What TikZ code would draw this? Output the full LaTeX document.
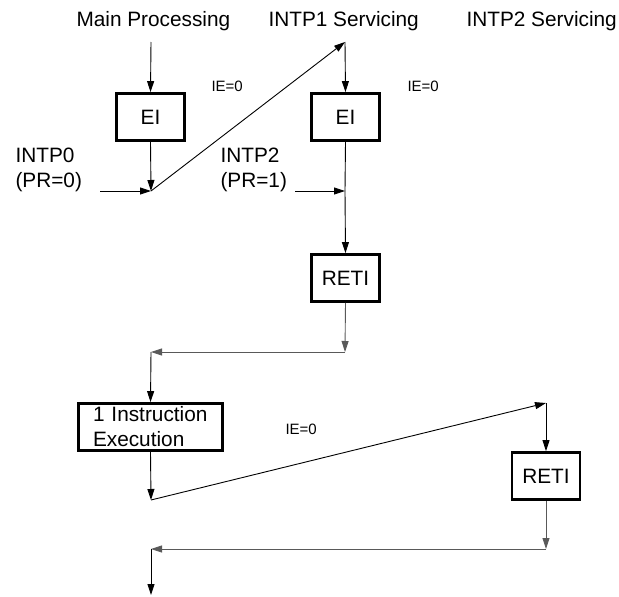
\documentclass[tikz,border=0pt]{standalone}
\usepackage{fontspec}
\setmainfont{Liberation Sans}
\usetikzlibrary{arrows.meta}

\tikzset{
  stepbox/.style={draw, line width=2.8pt, minimum width=68pt, minimum height=47pt, inner sep=0pt},
  flow/.style={line width=0.9pt, -{Triangle[length=11pt,width=7pt]}},
  back/.style={flow, draw=black!65},
  big/.style={font=\fontsize{20.8}{25}\selectfont},
  small/.style={font=\fontsize{15}{18}\selectfont},
}

\begin{document}
\begin{tikzpicture}[x=1pt, y=-1pt, big]
        \useasboundingbox (0,0) rectangle (619,597);

        % Column headings
        \node[anchor=base west] (hmain) at (73,27) {Main Processing};
        \node[anchor=base west] (hone) at (265,27) {INTP1 Servicing};
        \node[anchor=base west] (htwo) at (463,27) {INTP2 Servicing};

        % Main processing
        \coordinate (mtop) at (151,42);
        \node[stepbox] (ei0) at (150.5,117) {EI};
        \coordinate (j0) at (151,191);
        \coordinate (i0) at (100,191);
        \node[anchor=base west, align=left] (lintp0) at (12,187) {INTP0\\(PR=0)};
        \node[small, anchor=base west] (ie0) at (208,91) {IE=0};

        % INTP1 servicing
        \coordinate (t1) at (345,42);
        \node[stepbox] (ei1) at (345.5,117) {EI};
        \coordinate (j1) at (345,191);
        \coordinate (i2) at (295,191);
        \node[anchor=base west, align=left] (lintp2) at (217,187) {INTP2\\(PR=1)};
        \node[small, anchor=base west] (ie1) at (404,91) {IE=0};
        \node[stepbox] (reti1) at (345.5,278) {RETI};
        \coordinate (r1) at (345,352);
        \coordinate (j2) at (151,352);

        % One instruction, then INTP2 servicing
        \node[stepbox, minimum width=144pt, text width=115pt, align=left, inner xsep=14.5pt] (instr) at (150.5,427) {1 Instruction\\Execution};
        \coordinate (j3) at (151,500);
        \coordinate (t2) at (546,403);
        \node[small, anchor=base west] (ie2) at (282,434) {IE=0};
        \node[stepbox] (reti2) at (546,476) {RETI};
        \coordinate (r2) at (546,549);
        \coordinate (j4) at (151,549);
        \coordinate (mend) at (151,595);

        % Connections
        \draw[flow] (mtop) -- (ei0.north);
        \draw[flow] (ei0.south) -- (j0);
        \draw[flow] (i0) -- (j0);
        \draw[flow] (j0) -- (t1);
        \draw[flow] (t1) -- (ei1.north);
        \draw[line width=0.9pt] (ei1.south) -- (j1);
        \draw[flow] (i2) -- (j1);
        \draw[flow] (j1) -- (reti1.north);
        \draw[back] (reti1.south) -- (r1);
        \draw[back] (r1) -- (j2);
        \draw[flow] (j2) -- (instr.north);
        \draw[flow] (instr.south) -- (j3);
        \draw[flow] (j3) -- (t2);
        \draw[flow] (t2) -- (reti2.north);
        \draw[back] (reti2.south) -- (r2);
        \draw[back] (r2) -- (j4);
        \draw[flow] (j4) -- (mend);
    \end{tikzpicture}
\end{document}
